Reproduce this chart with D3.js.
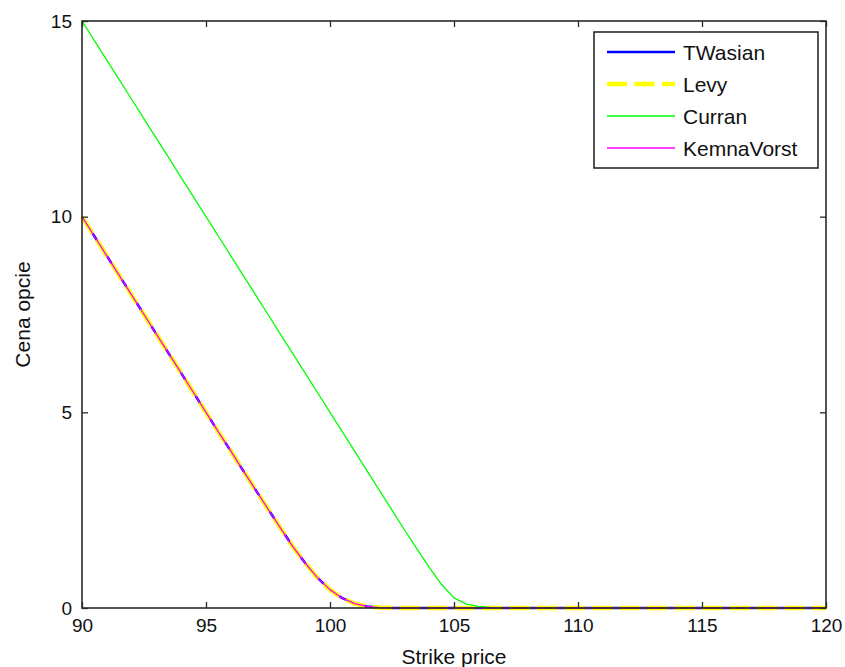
<!DOCTYPE html>
<html lang="en">
<head>
    <meta charset="UTF-8">
    <title>Cena opcie</title>
    <style>
        body {
            margin: 0;
            background: #fff;
        }
        text {
            font-family: "Liberation Sans", Arial, sans-serif;
            fill: #111;
        }
    </style>
</head>

<body>
    <div id="chart-wrapper"></div>

    <script src="https://d3js.org/d3.v7.min.js"></script>
    <script>
        // strike prices (x axis)
        const strikes = [
            90, 90.5, 91, 91.5, 92, 92.5, 93, 93.5, 94, 94.5,
            95, 95.5, 96, 96.5, 97, 97.5, 98, 98.5, 99, 99.5,
            100, 100.5, 101, 101.5, 102, 102.5, 103, 103.5, 104, 104.5,
            105, 105.5, 106, 106.5, 107, 107.5, 108, 108.5, 109, 109.5,
            110, 110.5, 111, 111.5, 112, 112.5, 113, 113.5, 114, 114.5,
            115, 115.5, 116, 116.5, 117, 117.5, 118, 118.5, 119, 119.5, 120
        ]

        const twasian = [
            10, 9.5, 9, 8.5, 8, 7.5, 7, 6.5, 6, 5.5,
            5, 4.5, 4.01, 3.51, 3.02, 2.53, 2.05, 1.57, 1.15, 0.77,
            0.47, 0.25, 0.11, 0.04, 0.01, 0, 0, 0, 0, 0,
            0, 0, 0, 0, 0, 0, 0, 0, 0, 0,
            0, 0, 0, 0, 0, 0, 0, 0, 0, 0,
            0, 0, 0, 0, 0, 0, 0, 0, 0, 0, 0
        ]

        const levy = [
            10, 9.5, 9, 8.5, 8, 7.5, 7, 6.5, 6, 5.5,
            5, 4.5, 4.01, 3.51, 3.02, 2.53, 2.05, 1.57, 1.15, 0.77,
            0.47, 0.25, 0.11, 0.04, 0.01, 0, 0, 0, 0, 0,
            0, 0, 0, 0, 0, 0, 0, 0, 0, 0,
            0, 0, 0, 0, 0, 0, 0, 0, 0, 0,
            0, 0, 0, 0, 0, 0, 0, 0, 0, 0, 0
        ]

        const curran = [
            15, 14.5, 14, 13.5, 13, 12.5, 12, 11.5, 11, 10.5,
            10, 9.5, 9, 8.5, 8, 7.5, 7, 6.5, 6, 5.5,
            5, 4.5, 4, 3.5, 3, 2.5, 2, 1.52, 1.04, 0.6,
            0.26, 0.1, 0.04, 0.01, 0, 0, 0, 0, 0, 0,
            0, 0, 0, 0, 0, 0, 0, 0, 0, 0,
            0, 0, 0, 0, 0, 0, 0, 0, 0, 0, 0
        ]

        const kemnaVorst = [
            10, 9.5, 9, 8.5, 8, 7.5, 7, 6.5, 6, 5.5,
            5, 4.5, 4.01, 3.51, 3.02, 2.53, 2.05, 1.57, 1.15, 0.77,
            0.47, 0.25, 0.11, 0.04, 0.01, 0, 0, 0, 0, 0,
            0, 0, 0, 0, 0, 0, 0, 0, 0, 0,
            0, 0, 0, 0, 0, 0, 0, 0, 0, 0,
            0, 0, 0, 0, 0, 0, 0, 0, 0, 0, 0
        ]

        const xTicks = [90, 95, 100, 105, 110, 115, 120]
        const yTicks = [0, 5, 10, 15]

        const series = [
            { name: 'TWasian', values: twasian, color: '#0000ff', width: 2.5, dash: null },
            { name: 'Levy', values: levy, color: '#ffff00', width: 4.5, dash: '20,7.5' },
            { name: 'Curran', values: curran, color: '#00ff00', width: 1.3, dash: null },
            { name: 'KemnaVorst', values: kemnaVorst, color: '#ff00ff', width: 1.3, dash: null }
        ]

        const W = 845
        const H = 667
        const margin = { top: 21, right: 19, bottom: 59, left: 82 }
        const width = W - margin.left - margin.right
        const height = H - margin.top - margin.bottom

        const svg = d3.select('#chart-wrapper')
            .append('svg')
            .attr('width', W)
            .attr('height', H)

        const g = svg.append('g')
            .attr('transform', `translate(${margin.left},${margin.top})`)

        const x = d3.scaleLinear().domain([90, 120]).range([0, width])
        const y = d3.scaleLinear().domain([0, 15]).range([height, 0])

        const line = vals => d3.line()
            .x((d, i) => x(strikes[i]))
            .y(d => y(d))(vals)

        // lines
        series.forEach(s => {
            g.append('path')
                .attr('d', line(s.values))
                .attr('fill', 'none')
                .attr('stroke', s.color)
                .attr('stroke-width', s.width)
                .attr('stroke-dasharray', s.dash)
                .attr('stroke-linejoin', 'round')
        })

        // axes box with inward ticks on all sides (matlab style)
        const axisColor = '#2a2a2a'
        const tickLen = 6
        const styleAxis = sel => {
            sel.select('.domain').remove()
            sel.selectAll('.tick line').attr('stroke', axisColor).attr('stroke-width', 1.3)
            sel.selectAll('.tick text')
                .style('font-size', '19px')
                .attr('fill', '#111')
        }

        g.append('g')
            .attr('transform', `translate(0,${height})`)
            .call(d3.axisBottom(x).tickValues(xTicks).tickSize(-tickLen).tickPadding(11))
            .call(styleAxis)
        g.append('g')
            .call(d3.axisTop(x).tickValues(xTicks).tickSize(-tickLen).tickFormat(''))
            .call(styleAxis)
        g.append('g')
            .call(d3.axisLeft(y).tickValues(yTicks).tickSize(-tickLen).tickPadding(10))
            .call(styleAxis)
        g.append('g')
            .attr('transform', `translate(${width},0)`)
            .call(d3.axisRight(y).tickValues(yTicks).tickSize(-tickLen).tickFormat(''))
            .call(styleAxis)

        g.append('rect')
            .attr('width', width)
            .attr('height', height)
            .attr('fill', 'none')
            .attr('stroke', axisColor)
            .attr('stroke-width', 1.6)

        // axis labels
        svg.append('text')
            .attr('x', margin.left + width / 2)
            .attr('y', 664)
            .attr('text-anchor', 'middle')
            .style('font-size', '21px')
            .text('Strike price')

        svg.append('text')
            .attr('transform', `translate(30,${margin.top + height / 2}) rotate(-90)`)
            .attr('text-anchor', 'middle')
            .style('font-size', '21px')
            .text('Cena opcie')

        // legend
        const legend = svg.append('g')
            .attr('transform', 'translate(594,32)')
        legend.append('rect')
            .attr('width', 224)
            .attr('height', 136)
            .attr('fill', '#fff')
            .attr('stroke', axisColor)
            .attr('stroke-width', 1.6)

        series.forEach((s, i) => {
            const ly = 20 + i * 32
            legend.append('line')
                .attr('x1', 13)
                .attr('x2', 81)
                .attr('y1', ly)
                .attr('y2', ly)
                .attr('stroke', s.color)
                .attr('stroke-width', s.width)
                .attr('stroke-dasharray', s.dash)
            legend.append('text')
                .attr('x', 89)
                .attr('y', ly)
                .attr('dy', '0.36em')
                .style('font-size', '21px')
                .text(s.name)
        })
    </script>
</body>
</html>
